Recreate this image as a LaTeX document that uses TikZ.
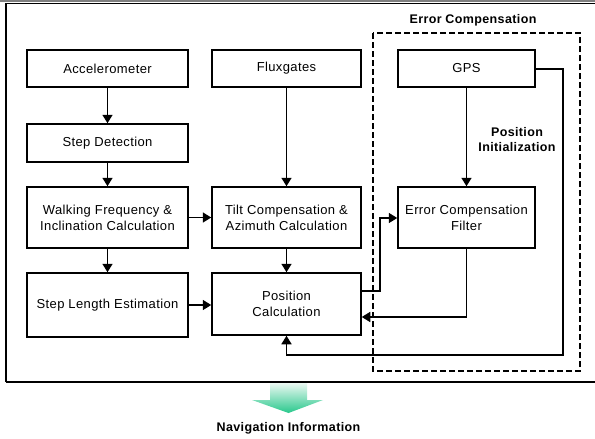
\documentclass[tikz,border=0pt]{standalone}
\usepackage{fontspec}
\setmainfont{Liberation Sans}[LetterSpace=3]
\usetikzlibrary{arrows.meta}
\definecolor{navgreen}{RGB}{40,200,140}
\definecolor{navpale}{RGB}{235,248,242}
\begin{document}
\begin{tikzpicture}[x=1pt,y=-1pt,
  blk/.style={draw,line width=1.5pt,fill=white,align=center,inner sep=0pt,
    font=\fontsize{13}{16}\selectfont},
  conn/.style={line width=1.6pt,-{Triangle[length=8.5pt,width=10pt]}},
  lbl/.style={font=\bfseries\fontsize{12.5}{15}\selectfont,align=center}]
\useasboundingbox (0,0) rectangle (595,439);
% outer frame
\draw[line width=1.5pt,gray] (0,1) -- (595,1);
\draw[line width=1.5pt] (6,382) -- (6,3.5) -- (600,3.5);
\draw[line width=1.5pt] (6,382) -- (600,382);
% error compensation group
\draw[line width=1.6pt,dash pattern=on 6pt off 3pt] (373,33) rectangle (580,371);
\node[lbl] (ectitle) at (473,20) {Error Compensation};
% blocks
\node[blk,minimum width=161pt,minimum height=37pt] (acc) at (107.5,68.5) {Accelerometer};
\node[blk,minimum width=161pt,minimum height=38pt] (step) at (107.5,143) {Step Detection};
\node[blk,minimum width=161pt,minimum height=61pt] (walk) at (107.5,217.5) {Walking Frequency \&\\Inclination Calculation};
\node[blk,minimum width=161pt,minimum height=64pt] (sl) at (107.5,305) {Step Length Estimation};
\node[blk,minimum width=149pt,minimum height=37pt] (flux) at (286.5,68.5) {Fluxgates};
\node[blk,minimum width=149pt,minimum height=61pt] (tilt) at (286.5,217.5) {Tilt Compensation \&\\Azimuth Calculation};
\node[blk,minimum width=149pt,minimum height=62pt] (pos) at (286.5,304) {Position\\Calculation};
\node[blk,minimum width=137pt,minimum height=37pt] (gps) at (466.5,68.5) {GPS};
\node[blk,minimum width=137pt,minimum height=61pt] (ecf) at (466.5,217.5) {Error Compensation\\Filter};
\node[lbl] (posinit) at (517,140) {Position\\Initialization};
% bends of the feedback wires
\coordinate (pr1) at (380,291);
\coordinate (pr2) at (380,218);
\coordinate (fb1) at (466.5,317);
\coordinate (g1) at (563,69);
\coordinate (g2) at (563,355);
\coordinate (g3) at (286.5,355);
% connectors
\draw[conn] (acc) -- (step);
\draw[conn] (step) -- (walk);
\draw[conn] (walk) -- (sl);
\draw[conn] (walk.east) -- (tilt.west);
\draw[conn] (flux) -- (tilt);
\draw[conn] (tilt) -- (pos);
\draw[conn] (sl.east) -- (pos.west |- sl.east);
\draw[conn] (gps) -- (ecf);
\draw[conn] (pos.east |- pr1) -- (pr1) -- (pr2) -- (ecf.west |- pr2);
\draw[conn] (ecf.south) -- (fb1) -- (pos.east |- fb1);
\draw[conn] (gps.east |- g1) -- (g1) -- (g2) -- (g3) -- (pos.south);
% output arrow
\shade[top color=navpale,bottom color=navgreen,shading angle=0]
  (270,383) -- (307,383) -- (307,400) -- (323,400) -- (288.5,413) -- (252,400) -- (270,400) -- cycle;
\node[lbl] (nav) at (288.5,428) {Navigation Information};
\end{tikzpicture}
\end{document}
